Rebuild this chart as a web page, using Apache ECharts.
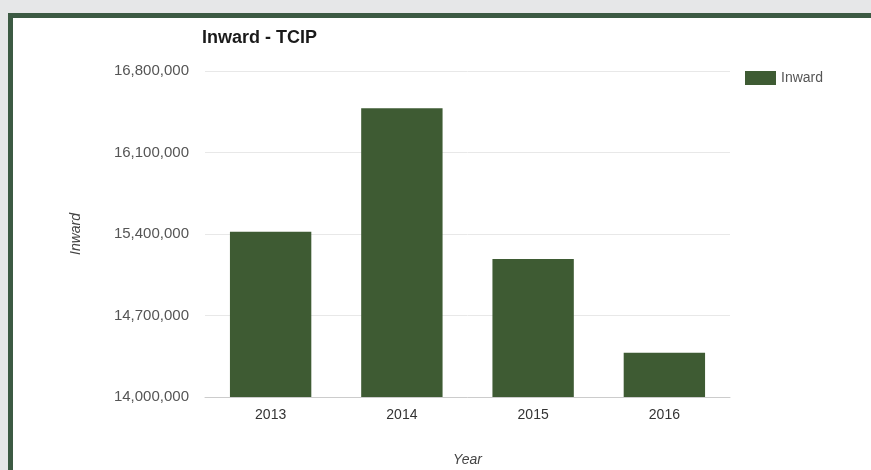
<!DOCTYPE html>
<html>
<head>
<meta charset="utf-8">
<script src="https://cdn.jsdelivr.net/npm/echarts@6/dist/echarts.min.js"></script>
<style>
  html, body { margin: 0; padding: 0; background: #e6e7e8; }
  #frame {
    position: absolute; left: 8px; top: 13px; width: 880px; height: 470px;
    border-left: 5px solid #3c5a43; border-top: 5px solid #3c5a43;
    background: #ffffff;
  }
  #chart { position: absolute; left: 0; top: 0; width: 871px; height: 470px; }
</style>
</head>
<body>
<div id="frame"></div>
<div id="chart"></div>
<script>
var years = ['2013', '2014', '2015', '2016'];
var inward = [15420000, 16480000, 15185000, 14380000];
var yTicks = [14000000, 14700000, 15400000, 16100000, 16800000];

(function(){
    var chart = echarts.init(document.getElementById('chart'));
    var fontName = 'Liberation Sans, Arial, sans-serif';

    var option = {
        animation: false,
        title: {
            text: 'Inward - TCIP',
            left: 202,
            top: 29,
            padding: 0,
            textStyle: { fontSize: 18, fontWeight: 'bold', color: '#1a1a1a', fontFamily: fontName }
        },
        color: ['#3e5b33'],
        legend: {
            data: [{ name: 'Inward', icon: 'rect' }],
            left: 745,
            top: 71,
            padding: 0,
            itemWidth: 31,
            itemHeight: 14,
            itemGap: 6,
            textStyle: { fontSize: 14, color: '#555', fontFamily: fontName }
        },
        grid: { left: 205, right: 141, top: 71, bottom: 73, outerBoundsMode: 'none' },
        xAxis: {
            type: 'category',
            data: years,
            name: 'Year',
            nameLocation: 'middle',
            nameGap: 56,
            nameTextStyle: { fontSize: 14, fontStyle: 'italic', color: '#444', fontFamily: fontName },
            axisLine: { lineStyle: { color: '#cccccc' } },
            axisTick: { show: false },
            axisLabel: { fontSize: 14, color: '#333', margin: 11, fontFamily: fontName }
        },
        yAxis: {
            type: 'value',
            min: yTicks[0],
            max: yTicks[yTicks.length - 1],
            interval: yTicks[1] - yTicks[0],
            name: 'Inward',
            nameLocation: 'middle',
            nameRotate: 90,
            nameGap: 122,
            nameTextStyle: { fontSize: 14, fontStyle: 'italic', color: '#444', fontFamily: fontName },
            axisLine: { show: false },
            axisTick: { show: false },
            splitLine: { lineStyle: { color: '#e8e8e8' } },
            axisLabel: {
                fontSize: 15, color: '#555', margin: 16, fontFamily: fontName,
                formatter: function(v){ return v.toLocaleString('en-US'); }
            }
        },
        series: [{
            name: 'Inward',
            type: 'bar',
            barWidth: '62%',
            data: inward
        }]
    };

    chart.setOption(option);
})();
</script>
</body>
</html>
